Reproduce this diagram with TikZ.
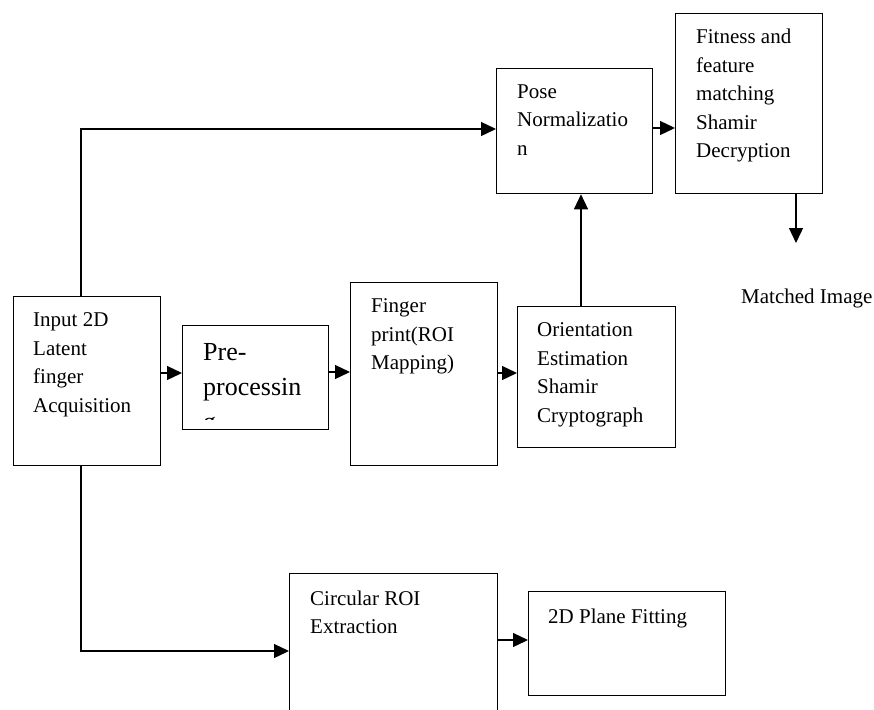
\documentclass[tikz,border=0pt]{standalone}
\usepackage{fontspec}
\setmainfont{Liberation Serif}
\usetikzlibrary{arrows.meta}
\begin{document}
\begin{tikzpicture}[x=1pt,y=-1pt,
  box/.style={draw, line width=1.3pt, inner sep=0pt, anchor=north west},
  txt/.style={inner sep=0pt, anchor=north west, align=left, font=\fontsize{21}{28.5}\selectfont},
  bigtxt/.style={inner sep=0pt, anchor=north west, align=left, font=\fontsize{26}{35}\selectfont},
  conn/.style={line width=1.3pt},
  arr/.style={conn, -{Triangle[length=15pt,width=14pt]}}]
\useasboundingbox (0,0) rectangle (874,709);
\clip (0,0) rectangle (874,709);
% boxes
\node[box, minimum width=147pt, minimum height=169pt] (input) at (13,296) {};
\node[box, minimum width=146pt, minimum height=104pt] (pre) at (182,325) {};
\node[box, minimum width=147pt, minimum height=183pt] (finger) at (350,282) {};
\node[box, minimum width=158pt, minimum height=141pt] (orient) at (517,306) {};
\node[box, minimum width=156pt, minimum height=125pt] (pose) at (496,68) {};
\node[box, minimum width=147pt, minimum height=180pt] (fit) at (675,13) {};
\node[box, minimum width=208pt, minimum height=160pt] (circ) at (289,573) {};
\node[box, minimum width=197pt, minimum height=104pt] (plane) at (528,591) {};
% texts
\node[txt] (tinput) at (33,312.5) {Input 2D\\Latent\\finger\\Acquisition};
\begin{scope}
\clip (182,325) rectangle (328,419.5);
\node[bigtxt] (tpre) at (203,343.5) {Pre-\\processin\\g};
\end{scope}
\node[txt] (tfinger) at (371,298.4) {Finger\\print(ROI\\Mapping)};
\node[txt] (torient) at (537,322.4) {Orientation\\Estimation\\Shamir\\Cryptograph};
\node[txt] (tpose) at (517,84.4) {Pose\\Normalizatio\\n};
\node[txt] (tfit) at (696,29) {Fitness and\\feature\\matching\\Shamir\\Decryption};
\node[txt] (tcirc) at (310,590.7) {Circular ROI\\Extraction};
\node[txt] (tplane) at (548,609) {2D Plane Fitting};
\node[txt] (tmatch) at (741,289) {Matched Image};
% connectors
\draw[arr] (input.east |- 0,373) -- (pre.west |- 0,373);
\draw[arr] (pre.east |- 0,372) -- (finger.west |- 0,372);
\draw[arr] (finger.east |- 0,373) -- (orient.west |- 0,373);
\draw[arr] (orient.north -| 581,0) -- (pose.south -| 581,0);
\draw[arr] (input.north -| 81,0) |- (pose.west |- 0,129);
\draw[arr] (pose.east |- 0,128) -- (fit.west |- 0,128);
\coordinate (mo) at (796,243);
\draw[arr] (fit.south -| mo) -- (mo);
\draw[arr] (input.south -| 81,0) |- (circ.west |- 0,651);
\draw[arr] (circ.east |- 0,640) -- (plane.west |- 0,640);
\end{tikzpicture}
\end{document}
